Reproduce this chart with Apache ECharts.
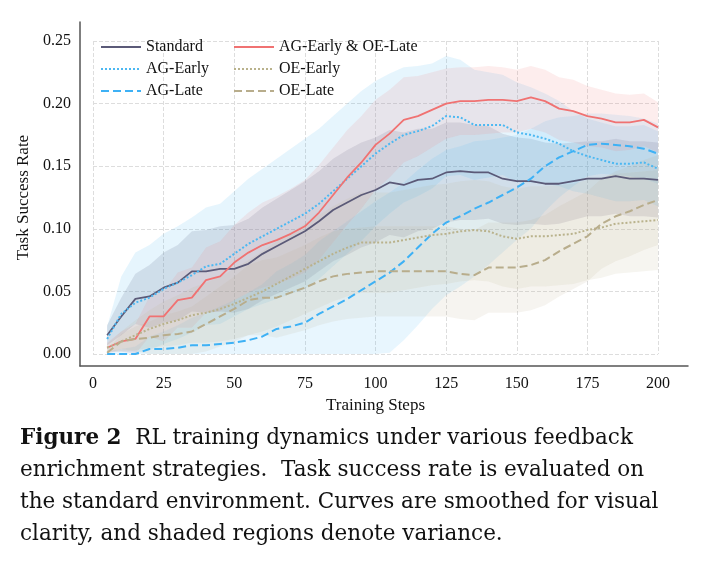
<!DOCTYPE html><html><head><meta charset="utf-8"><script src="https://cdn.jsdelivr.net/npm/echarts@6/dist/echarts.min.js"></script></head><body style="margin:0;background:#fff"><div id="c" style="width:709px;height:562px"></div><script>
const steps=[5,10,15,20,25,30,35,40,45,50,55,60,65,70,75,80,85,90,95,100,105,110,115,120,125,130,135,140,145,150,155,160,165,170,175,180,185,190,195,200];
const standard=[.015,.03,.044,.046,.053,.057,.066,.066,.068,.068,.072,.080,.086,.092,.098,.106,.115,.121,.127,.131,.137,.135,.139,.140,.145,.146,.145,.145,.140,.138,.138,.136,.136,.138,.140,.140,.142,.140,.140,.139];
const agEarly=[.012,.032,.041,.045,.052,.057,.063,.070,.072,.080,.088,.094,.100,.106,.112,.120,.130,.140,.150,.160,.168,.175,.178,.182,.190,.189,.183,.183,.183,.177,.175,.172,.168,.162,.158,.155,.152,.152,.153,.148];
const agLate=[0,0,0,.004,.004,.005,.007,.007,.008,.009,.011,.014,.020,.022,.025,.032,.038,.044,.051,.058,.065,.074,.085,.096,.105,.110,.116,.121,.127,.133,.140,.150,.157,.162,.167,.168,.167,.166,.164,.160];
const agEarlyOeLate=[.005,.010,.012,.030,.030,.043,.045,.059,.062,.073,.081,.087,.091,.096,.102,.113,.127,.141,.153,.167,.176,.187,.190,.195,.200,.202,.202,.203,.203,.202,.205,.202,.196,.194,.190,.188,.185,.185,.187,.181];
const oeEarly=[.005,.010,.015,.020,.024,.027,.031,.033,.036,.040,.045,.050,.056,.062,.068,.074,.080,.085,.089,.089,.089,.091,.093,.095,.096,.098,.099,.098,.094,.092,.094,.094,.095,.096,.099,.101,.104,.105,.106,.107];
const oeLate=[.001,.010,.012,.013,.015,.016,.018,.024,.030,.036,.043,.045,.045,.049,.053,.058,.062,.064,.065,.066,.066,.066,.066,.066,.066,.064,.063,.069,.069,.069,.071,.075,.082,.088,.094,.104,.110,.114,.119,.123];
// band half-widths (variance) read from shading
const standardSpread=[.008,.015,.02,.025,.028,.03,.032,.033,.034,.035,.036,.037,.038,.039,.04,.04,.041,.042,.042,.042,.042,.042,.041,.04,.04,.039,.038,.037,.036,.035,.034,.033,.032,.031,.03,.03,.03,.03,.03,.03];
const agEarlySpread=[.01,.03,.04,.042,.044,.045,.046,.047,.048,.05,.052,.054,.056,.058,.06,.06,.06,.06,.06,.058,.056,.054,.052,.05,.048,.046,.044,.042,.04,.04,.038,.036,.034,.032,.03,.03,.03,.03,.03,.03];
const agLateSpread=[.002,.004,.006,.01,.014,.018,.022,.026,.03,.034,.038,.042,.046,.05,.054,.058,.06,.062,.063,.064,.064,.063,.062,.06,.058,.056,.054,.05,.046,.042,.04,.036,.032,.028,.025,.024,.024,.024,.024,.024];
const agEarlyOeLateSpread=[.004,.008,.012,.016,.02,.022,.024,.026,.028,.03,.032,.034,.035,.036,.037,.038,.038,.038,.037,.036,.035,.034,.032,.03,.028,.027,.027,.027,.026,.025,.025,.025,.025,.025,.024,.023,.023,.022,.021,.02];
const oeEarlySpread=[.003,.008,.012,.015,.018,.02,.022,.024,.026,.028,.03,.032,.034,.035,.036,.037,.038,.039,.04,.04,.04,.04,.04,.04,.04,.04,.04,.04,.04,.04,.04,.04,.04,.04,.04,.04,.04,.04,.04,.04];
const oeLateSpread=[.002,.006,.01,.013,.016,.018,.02,.022,.024,.026,.028,.03,.032,.033,.034,.035,.036,.036,.036,.036,.036,.036,.036,.036,.036,.036,.036,.036,.036,.036,.036,.036,.036,.036,.036,.036,.036,.036,.036,.036];
const yTicks=[0,.05,.1,.15,.2,.25];
const defs=[
 ['Standard',standard,standardSpread,'#5b5a78','solid',0.16],
 ['AG-Early',agEarly,agEarlySpread,'#4cb8f2','dotted',0.14],
 ['AG-Late',agLate,agLateSpread,'#3eb1f5','dashed',0.12],
 ['AG-Early & OE-Late',agEarlyOeLate,agEarlyOeLateSpread,'#f07272','solid',0.13],
 ['OE-Early',oeEarly,oeEarlySpread,'#b9b28c','dotted',0.13],
 ['OE-Late',oeLate,oeLateSpread,'#b8ad8c','dashed',0.13]];
const series=[];
defs.forEach((d,i)=>{
 const data=d[1].map((v,j)=>[steps[j],Math.max(0,v-d[2][j]),v+d[2][j]]);
 series.push({type:'custom',xAxisIndex:1,yAxisIndex:1,data,silent:true,z:1,
  renderItem:(p,api)=>{ if(p.dataIndex!==0) return;
   const up=data.map(r=>api.coord([r[0],r[2]])), lo=data.map(r=>api.coord([r[0],r[1]])).reverse();
   return {type:'polygon',shape:{points:up.concat(lo)},style:{fill:d[3],opacity:d[5]}};}});
});
defs.forEach(d=>series.push({name:d[0],type:'line',xAxisIndex:1,yAxisIndex:1,data:d[1].map((v,j)=>[steps[j],v]),symbol:'none',color:d[3],lineStyle:{color:d[3],width:d[4]==='solid'?1.8:2,type:d[4]},z:5}));
const F='Liberation Serif';
const chart=echarts.init(document.getElementById('c'));
const lg={orient:'vertical',top:34,itemGap:6,itemWidth:40,itemHeight:10,itemStyle:{opacity:0},textStyle:{fontSize:16,fontFamily:F,color:'#111'}};
chart.setOption({animation:false,textStyle:{fontFamily:F},
 grid:[{left:80,right:21,top:22,bottom:196},{left:93,right:51,top:41,bottom:208}],
 xAxis:[{gridIndex:0,type:'value',min:0,max:1,axisLine:{lineStyle:{color:'#555',width:1.5}},axisTick:{show:false},axisLabel:{show:false},splitLine:{show:false}},
  {gridIndex:1,type:'value',min:0,max:200,interval:25,name:'Training Steps',nameLocation:'middle',nameGap:34,nameTextStyle:{fontSize:17,color:'#111',fontFamily:F},axisLine:{show:false},axisTick:{show:false},axisLabel:{margin:22,fontSize:16,color:'#111',fontFamily:F},splitLine:{lineStyle:{type:'dashed',color:'#ddd'}}}],
 yAxis:[{gridIndex:0,type:'value',min:0,max:1,axisLine:{show:true,lineStyle:{color:'#555',width:1.5}},axisTick:{show:false},axisLabel:{show:false},splitLine:{show:false}},
  {gridIndex:1,type:'value',min:0,max:.25,interval:.05,name:'Task Success Rate',nameLocation:'middle',nameGap:60,nameTextStyle:{fontSize:17,color:'#111',fontFamily:F},axisLine:{show:false},axisTick:{show:false},axisLabel:{margin:22,fontSize:16,color:'#111',fontFamily:F,formatter:v=>v.toFixed(2)},splitLine:{lineStyle:{type:'dashed',color:'#ddd'}}}],
 legend:[Object.assign({left:95,data:['Standard','AG-Early','AG-Late']},lg),
  Object.assign({left:228,data:['AG-Early & OE-Late','OE-Early','OE-Late']},lg)],
 graphic:[{type:'text',left:20,top:422,style:{text:'{b|Figure 2}  RL training dynamics under various feedback\nenrichment strategies.  Task success rate is evaluated on\nthe standard environment. Curves are smoothed for visual\nclarity, and shaded regions denote variance.',fontFamily:'DejaVu Serif',fontSize:21.5,lineHeight:32,fill:'#111',rich:{b:{fontWeight:'bold',fontSize:21.5,fontFamily:'DejaVu Serif'}}}}],
 series});
</script></body></html>
